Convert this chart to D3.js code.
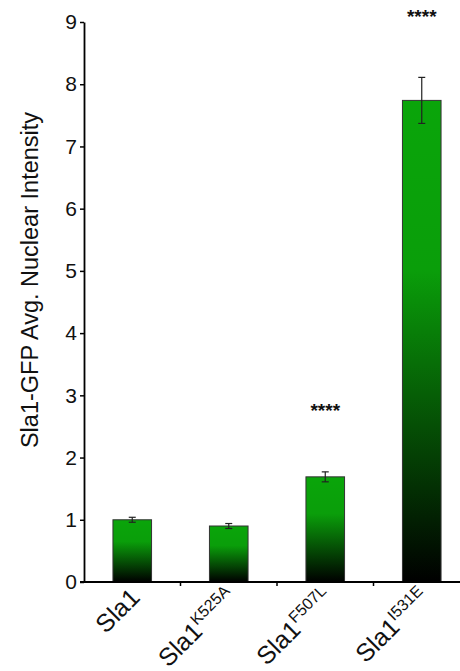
<!DOCTYPE html>
<html>
<head>
<meta charset="utf-8">
<script src="https://cdn.jsdelivr.net/npm/d3@7"></script>
<style>
  html, body { margin: 0; padding: 0; background: #fff; }
  svg { display: block; font-family: "Liberation Sans", Arial, sans-serif; }
</style>
</head>
<body>
<svg id="chart" width="460" height="671"></svg>
<script>
const categories = ["Sla1", "Sla1K525A", "Sla1F507L", "Sla1I531E"];
const labelMain = ["Sla1", "Sla1", "Sla1", "Sla1"];
const labelSup = ["", "K525A", "F507L", "I531E"];
const values = [1.00, 0.90, 1.69, 7.74];
const errors = [0.04, 0.04, 0.08, 0.37];
const significance = ["", "", "****", "****"];
const yTicks = [0, 1, 2, 3, 4, 5, 6, 7, 8, 9];
const yLabel = "Sla1-GFP Avg. Nuclear Intensity";

const svg = d3.select("#chart");
const x0 = 84, yBase = 582, yTop = 22;
const FONT = "'Liberation Sans', Arial, sans-serif";

const y = d3.scaleLinear().domain([0, 9]).range([yBase, yTop]);
const x = d3.scaleBand().domain(categories).range([x0, x0 + 4 * 96.5])
  .paddingInner(0.6).paddingOuter(0.3);

const defs = svg.append("defs");
const grad = defs.append("linearGradient").attr("id", "g")
  .attr("x1", 0).attr("y1", 0).attr("x2", 0).attr("y2", 1);
grad.append("stop").attr("offset", "0").attr("stop-color", "#0aa50a");
grad.append("stop").attr("offset", "0.35").attr("stop-color", "#0a9e0a");
grad.append("stop").attr("offset", "1").attr("stop-color", "#000000");

// bars
svg.selectAll("rect.bar").data(categories).enter().append("rect")
  .attr("class", "bar")
  .attr("x", d => x(d))
  .attr("width", x.bandwidth())
  .attr("y", (d, i) => y(values[i]))
  .attr("height", (d, i) => yBase - y(values[i]))
  .attr("fill", "url(#g)")
  .attr("stroke", "#333")
  .attr("stroke-width", 1);

// error bars
const eb = svg.append("g").attr("stroke", "#222").attr("stroke-width", 1.2);
categories.forEach((c, i) => {
  const cx = x(c) + x.bandwidth() / 2;
  const hi = y(values[i] + errors[i]), lo = y(values[i] - errors[i]);
  eb.append("line").attr("x1", cx).attr("x2", cx).attr("y1", hi).attr("y2", lo);
  eb.append("line").attr("x1", cx - 3.5).attr("x2", cx + 3.5).attr("y1", hi).attr("y2", hi);
  eb.append("line").attr("x1", cx - 3.5).attr("x2", cx + 3.5).attr("y1", lo).attr("y2", lo);
});

// significance
categories.forEach((c, i) => {
  if (!significance[i]) return;
  const cx = x(c) + x.bandwidth() / 2;
  const yy = i === 3 ? y(9) - 4 : y(values[i] + errors[i]) - 60;
  svg.append("text").attr("x", cx).attr("y", yy)
    .attr("text-anchor", "middle").attr("dominant-baseline", "middle")
    .attr("font-family", FONT)
    .attr("font-size", 19).attr("font-weight", "bold").attr("fill", "#111")
    .text(significance[i]);
});

// y axis
const yAxis = d3.axisLeft(y).tickValues(yTicks).tickSize(4).tickSizeOuter(0).tickFormat(d3.format("d"));
const gy = svg.append("g").attr("transform", `translate(${x0},0)`).call(yAxis);
gy.attr("font-family", FONT).attr("font-size", 21);
gy.select(".domain").attr("stroke", "#000").attr("stroke-width", 1.8);
gy.selectAll(".tick line").attr("stroke", "#000").attr("stroke-width", 1.5);
gy.selectAll(".tick text").attr("fill", "#111").attr("x", -7);

// x axis line and ticks at band boundaries
svg.append("line").attr("x1", x0 - 4).attr("x2", 470).attr("y1", yBase).attr("y2", yBase)
  .attr("stroke", "#000").attr("stroke-width", 1.8);
const step = x.step();
const boundaries = categories.slice(1).map(c => x(c) - (step - x.bandwidth()) / 2);
svg.selectAll("line.xt").data(boundaries).enter().append("line")
  .attr("class", "xt")
  .attr("x1", d => d).attr("x2", d => d).attr("y1", yBase).attr("y2", yBase + 4)
  .attr("stroke", "#000").attr("stroke-width", 1.5);

// x labels
categories.forEach((c, i) => {
  const cx = x(c) + x.bandwidth() / 2;
  const t = svg.append("text")
    .attr("transform", `translate(${cx + 9},${yBase + 17}) rotate(-45)`)
    .attr("text-anchor", "end").attr("font-family", FONT)
    .attr("font-size", 25).attr("fill", "#111");
  t.append("tspan").text(labelMain[i]);
  if (labelSup[i]) {
    t.append("tspan").attr("font-size", 16).attr("dy", -10).text(labelSup[i]);
  }
});

// y label
svg.append("text")
  .attr("transform", `translate(38,280) rotate(-90)`)
  .attr("text-anchor", "middle").attr("font-family", FONT)
  .attr("font-size", 23.5).attr("fill", "#111")
  .text(yLabel);
</script>
</body>
</html>
